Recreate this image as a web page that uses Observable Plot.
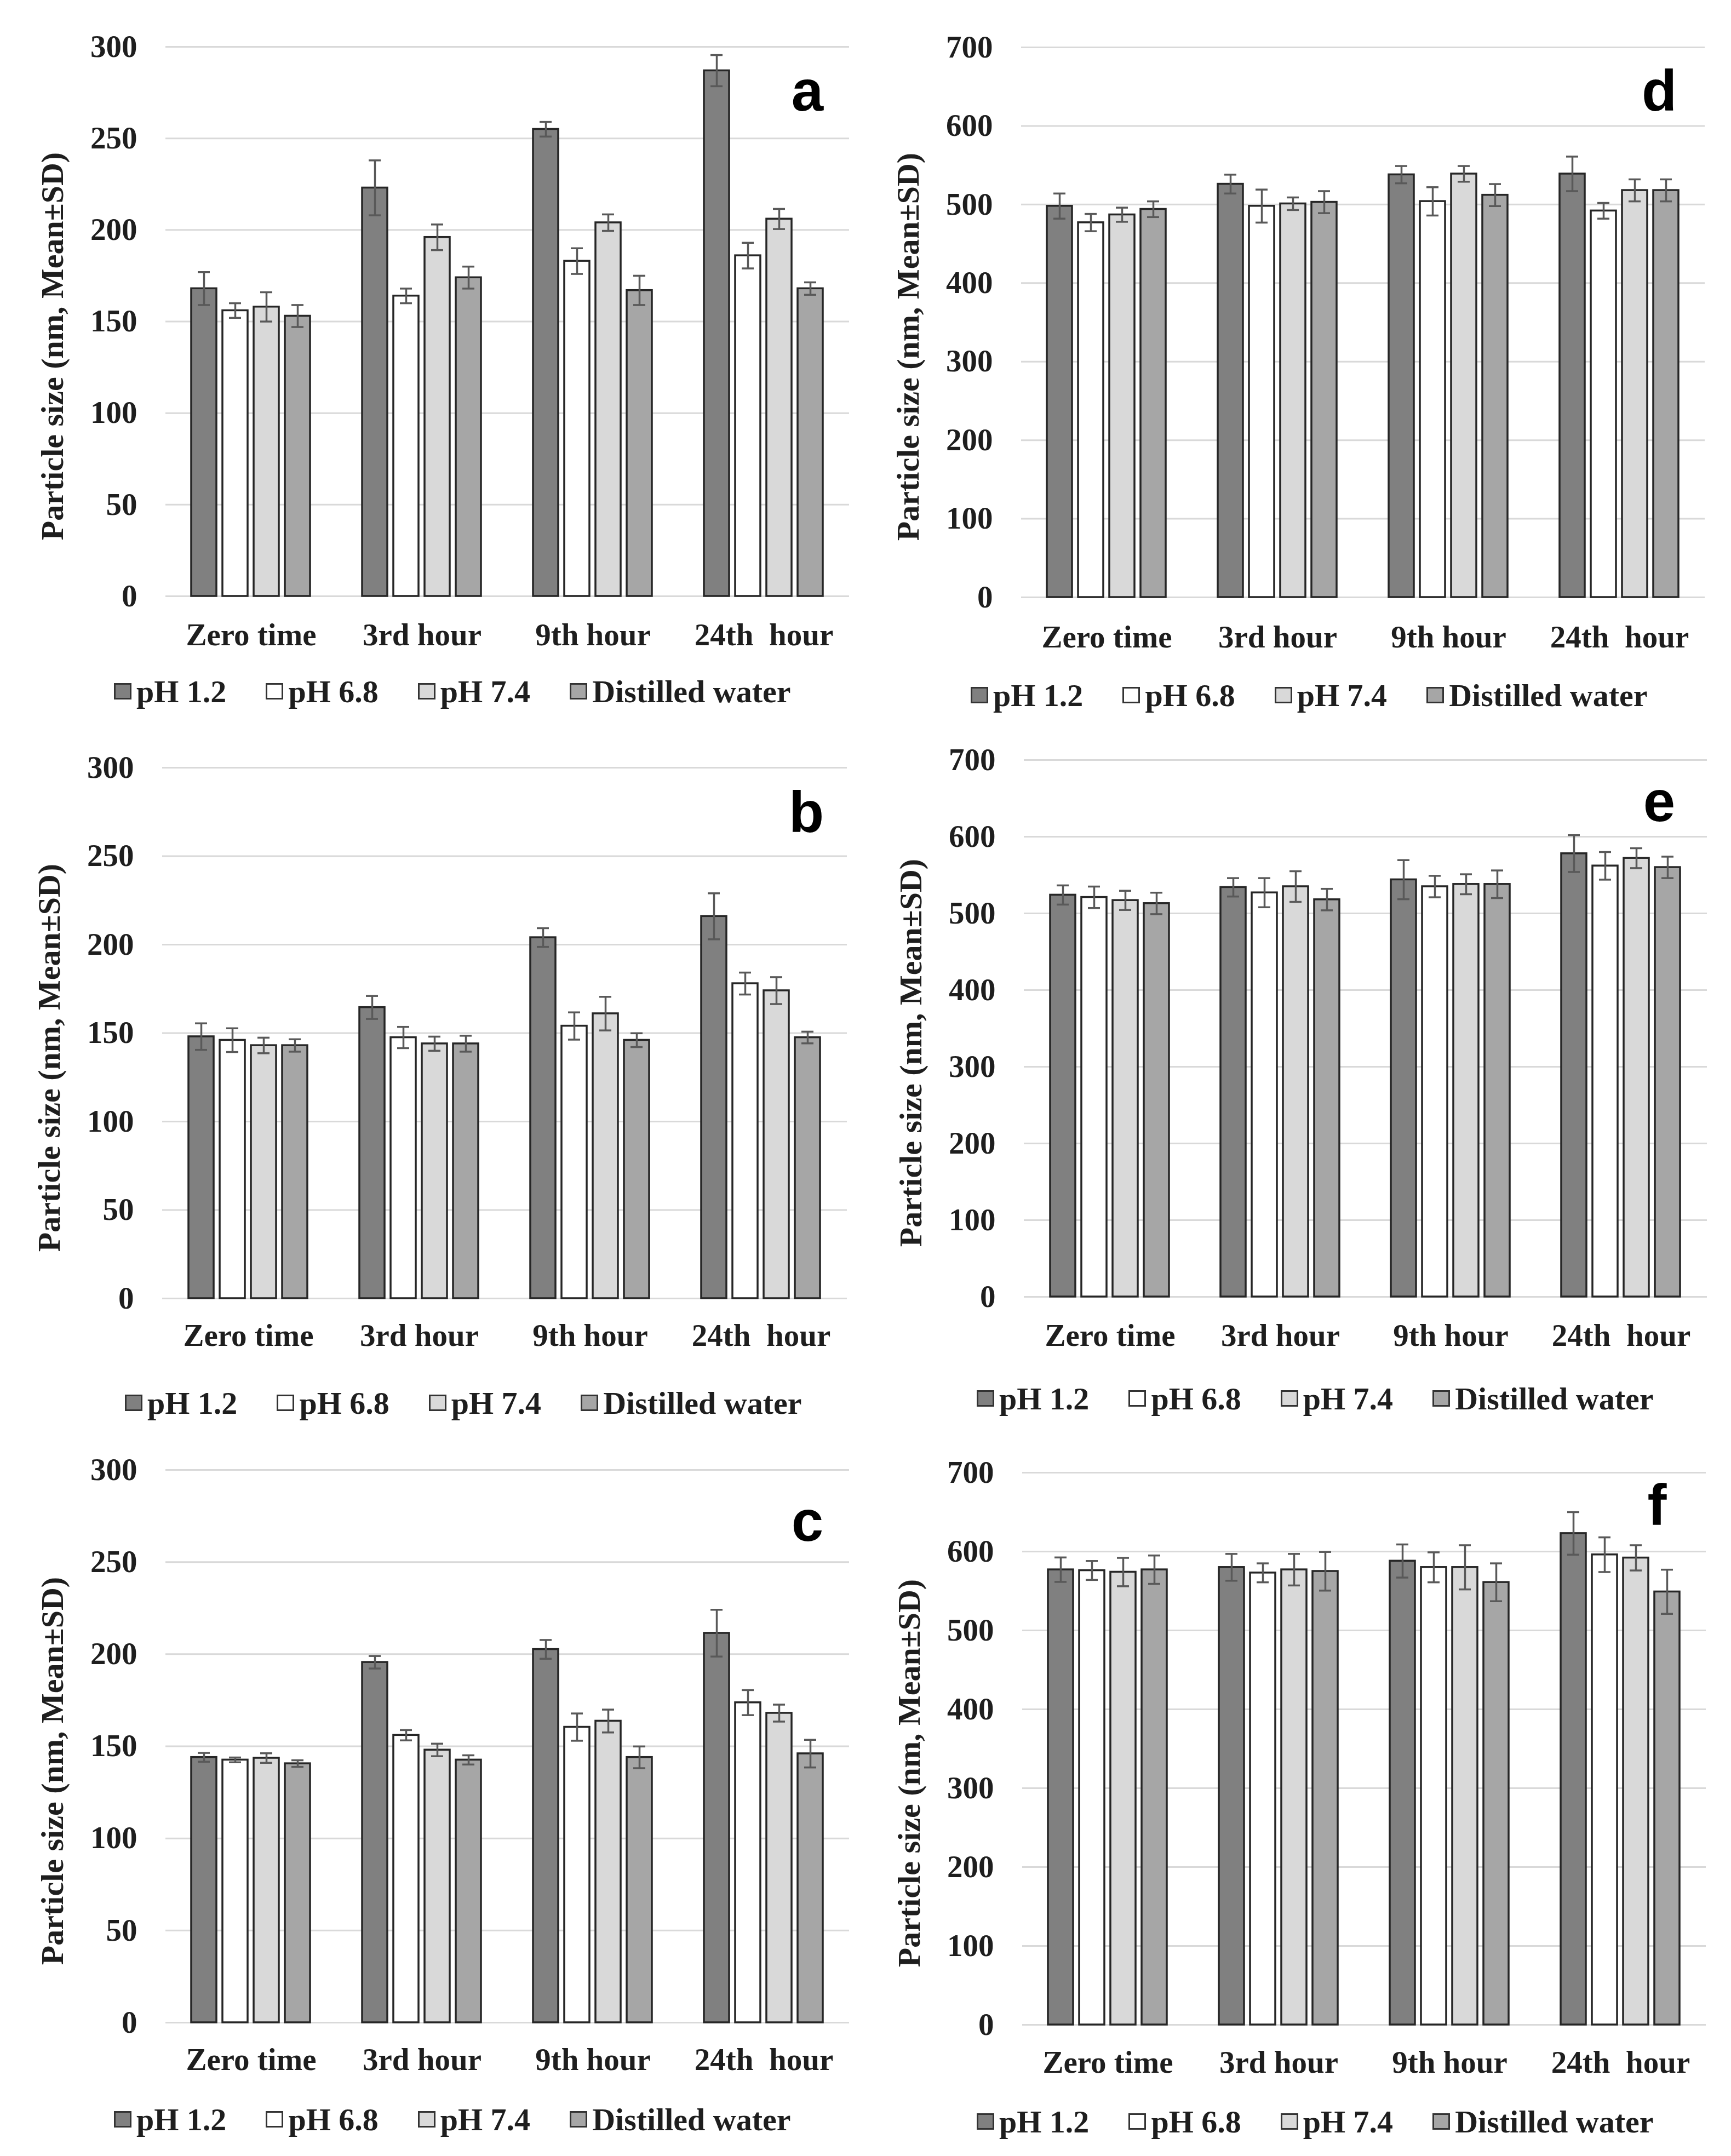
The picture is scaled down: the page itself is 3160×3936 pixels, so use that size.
<!DOCTYPE html>
<html><head><meta charset="utf-8">
<script src="https://cdn.jsdelivr.net/npm/d3@7"></script>
<script src="https://cdn.jsdelivr.net/npm/@observablehq/plot@0.6"></script>
<style>
html,body{margin:0;padding:0;background:#fff;}
#root{position:relative;width:3160px;height:3936px;overflow:hidden;background:#fff;}
.abs{position:absolute;}
.ytitle{font-family:"Liberation Serif",serif;font-weight:bold;font-size:58px;color:#1e1e1e;white-space:nowrap;line-height:1;transform:translate(-50%,-50%) rotate(-90deg);}
.letter{font-family:"Liberation Sans",Arial,sans-serif;font-weight:bold;font-size:105px;color:#000;line-height:1;transform:translate(-50%,-50%);}
.legend{display:flex;align-items:center;height:80px;font-family:"Liberation Serif",serif;font-weight:bold;font-size:58px;color:#1e1e1e;white-space:nowrap;}
.legend .sw{width:32px;height:30px;box-sizing:border-box;border:3px solid #333;margin-right:9px;}
.legend .item{display:flex;align-items:center;margin-right:72px;}
</style></head>
<body><div id="root"></div>
<script>
// ---- data ----
const times = ["Zero time", "3rd hour", "9th hour", "24th  hour"];
const seriesNames = ["pH 1.2", "pH 6.8", "pH 7.4", "Distilled water"];
const seriesColors = ["#808080", "#ffffff", "#d9d9d9", "#a6a6a6"];
const panelLetters = ["a", "b", "c", "d", "e", "f"];
const yTitle = "Particle size (nm, Mean±SD)";

// rows: time; columns: series (pH 1.2, pH 6.8, pH 7.4, Distilled water)
const meanA = [[168,156,158,153],[223,164,196,174],[255,183,204,167],[287,186,206,168]];
const sdA   = [[9,4,8,6],[15,4,7,6],[4,7,4.5,8],[8.5,7,5.5,3.4]];
const meanB = [[148,146,143,143],[164.5,147.5,144,144],[204,154,161,146],[216,178,174,147.5]];
const sdB   = [[7.5,6.7,4.4,3.5],[6.5,6,4,4.5],[5.3,7.7,9.5,3.9],[13,6.2,7.6,3.3]];
const meanC = [[144,142.6,143.6,140.6],[195.6,156,148,142.6],[202.6,160.4,163.7,144],[211.4,173.7,168,146]];
const sdC   = [[2.4,1.3,2.6,1.8],[3.4,2.8,3.4,2.5],[5.1,7.4,6.2,5.9],[12.7,6.8,4.6,7.5]];
const meanD = [[498,477,487,494],[526,498,501,503],[538,504,539,512],[539,492,518,518]];
const sdD   = [[16,11,9,10],[12,21,8,14],[11,18,10,14],[22,10,14,14]];
const meanE = [[524,521,517,513],[534,527,535,518],[544,535,538,538],[578,562,572,560]];
const sdE   = [[12.5,14,12.5,14],[12,19,20,14],[25.5,14,13,18],[24,18,13,14]];
const meanF = [[577,576,574,577],[580,573,577,575],[588,580,580,561],[623,596,592,549]];
const sdF   = [[15.5,12,18,18],[17,12,20,24.5],[21,19,28,24],[27,22,16,28]];
const yMaxSmall = 300, yStepSmall = 50;
const yMaxLarge = 700, yStepLarge = 100;

const panelData = [
  {mean: meanA, sd: sdA, yMax: yMaxSmall, yStep: yStepSmall},
  {mean: meanB, sd: sdB, yMax: yMaxSmall, yStep: yStepSmall},
  {mean: meanC, sd: sdC, yMax: yMaxSmall, yStep: yStepSmall},
  {mean: meanD, sd: sdD, yMax: yMaxLarge, yStep: yStepLarge},
  {mean: meanE, sd: sdE, yMax: yMaxLarge, yStep: yStepLarge},
  {mean: meanF, sd: sdF, yMax: yMaxLarge, yStep: yStepLarge}
];

// ---- layout (page pixels) ----
const layout = [
  {col: 0,    L: 302,  R: 1550, T: 85,   B: 1088, labelY: 1158, legendX: 208,  legendY: 1262, letterX: 1474, letterY: 165},
  {col: 0,    L: 296,  R: 1546, T: 1401, B: 2370, labelY: 2437, legendX: 228,  legendY: 2561, letterX: 1472, letterY: 1482},
  {col: 0,    L: 302,  R: 1550, T: 2683, B: 3692, labelY: 3759, legendX: 208,  legendY: 3869, letterX: 1474, letterY: 2776},
  {col: 1580, L: 1864, R: 3112, T: 86,   B: 1090, labelY: 1162, legendX: 1772, legendY: 1269, letterX: 3029, letterY: 165},
  {col: 1580, L: 1869, R: 3116, T: 1387, B: 2367, labelY: 2437, legendX: 1783, legendY: 2553, letterX: 3029, letterY: 1462},
  {col: 1580, L: 1866, R: 3114, T: 2688, B: 3696, labelY: 3764, legendX: 1783, legendY: 3873, letterX: 3025, letterY: 2747}
];

const root = document.getElementById("root");
const fontStyle = {fontFamily: "'Liberation Serif', 'Times New Roman', serif", fontWeight: "bold", fontSize: "57px", color: "#1e1e1e", background: "transparent", whiteSpace: "pre", overflow: "visible"};

panelData.forEach((pd, k) => {
  const lay = layout[k];
  const rows = times.flatMap((t, i) => seriesNames.map((s, j) => ({time: t, series: s, mean: pd.mean[i][j], sd: pd.sd[i][j]})));
  const svgLeft = lay.col, svgTop = lay.T - 100;
  const width = 1580, height = (lay.B + 120) - svgTop;
  const margins = {marginLeft: lay.L - svgLeft, marginRight: svgLeft + width - lay.R, marginTop: 100, marginBottom: 120};
  const ticks = d3.range(0, pd.yMax + 1, pd.yStep);

  const bg = Plot.plot({
    width, height, ...margins,
    style: fontStyle,
    y: {domain: [0, pd.yMax]},
    marks: [
      Plot.gridY(ticks, {stroke: "#d9d9d9", strokeOpacity: 1, strokeWidth: 3}),
      Plot.axisY(ticks, {tickSize: 0, tickPadding: 52, label: null, fontSize: 57})
    ]
  });
  const fg = Plot.plot({
    width, height, ...margins,
    style: fontStyle,
    fx: {domain: times, paddingInner: 0.3, paddingOuter: 0.15, label: null},
    x: {domain: seriesNames, paddingInner: 0.19, paddingOuter: 0, axis: null},
    y: {domain: [0, pd.yMax], axis: null},
    color: {domain: seriesNames, range: seriesColors},
    marks: [
      Plot.barY(rows, {fx: "time", x: "series", y: "mean", fill: "series", stroke: "#262626", strokeWidth: 3.5}),
      Plot.ruleX(rows, {fx: "time", x: "series", y1: d => d.mean - d.sd, y2: d => d.mean + d.sd, stroke: "#595959", strokeWidth: 3.5}),
      Plot.tickY(rows, {fx: "time", x: "series", y: d => d.mean + d.sd, stroke: "#595959", strokeWidth: 3.5, insetLeft: 12, insetRight: 12}),
      Plot.tickY(rows, {fx: "time", x: "series", y: d => d.mean - d.sd, stroke: "#595959", strokeWidth: 3.5, insetLeft: 12, insetRight: 12}),
      Plot.axisFx({anchor: "bottom", tickSize: 0, tickPadding: lay.labelY - 21 - lay.B, label: null, fontSize: 57})
    ]
  });
  for (const el of [bg, fg]) {
    el.classList.add("abs");
    el.style.left = svgLeft + "px";
    el.style.top = svgTop + "px";
    root.appendChild(el);
  }

  // y-axis title
  const yt = document.createElement("div");
  yt.className = "abs ytitle";
  yt.textContent = yTitle;
  yt.style.left = (lay.L - 206) + "px";
  yt.style.top = ((lay.T + lay.B) / 2 + 45) + "px";
  root.appendChild(yt);

  // panel letter
  const lt = document.createElement("div");
  lt.className = "abs letter";
  lt.textContent = panelLetters[k];
  lt.style.left = lay.letterX + "px";
  lt.style.top = lay.letterY + "px";
  root.appendChild(lt);

  // legend
  const lg = document.createElement("div");
  lg.className = "abs legend";
  lg.style.left = lay.legendX + "px";
  lg.style.top = (lay.legendY - 40) + "px";
  seriesNames.forEach((s, j) => {
    const it = document.createElement("div");
    it.className = "item";
    const sw = document.createElement("div");
    sw.className = "sw";
    sw.style.background = seriesColors[j];
    const tx = document.createElement("span");
    tx.textContent = s;
    it.appendChild(sw); it.appendChild(tx);
    lg.appendChild(it);
  });
  root.appendChild(lg);
});
</script>
</body></html>
